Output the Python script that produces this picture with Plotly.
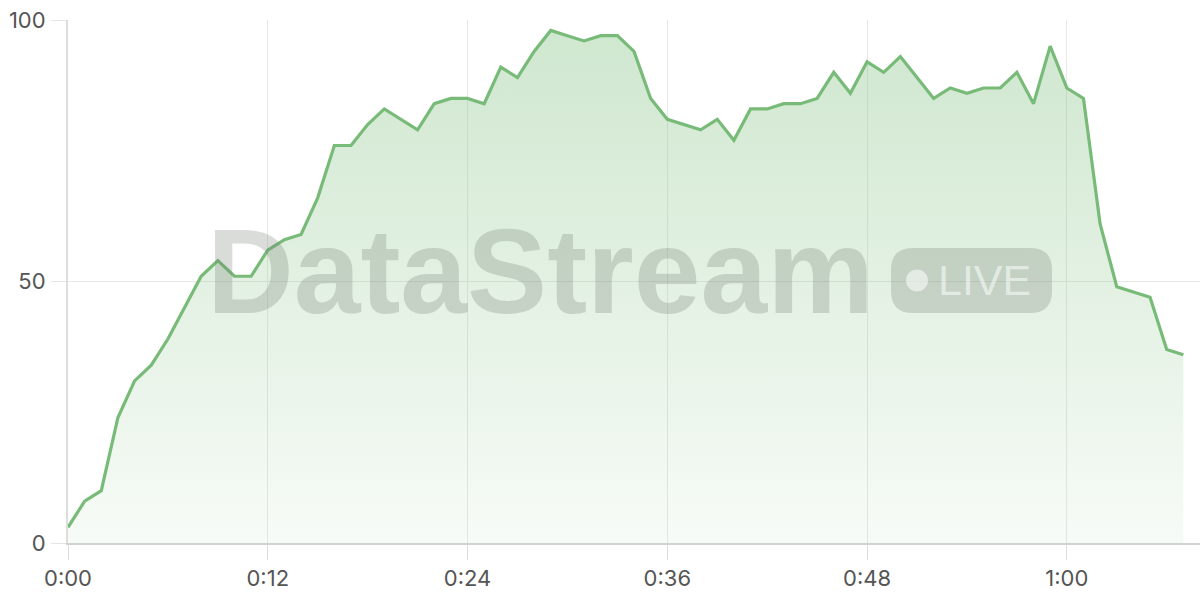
import plotly.graph_objects as go

seconds = list(range(68))
values = [3, 8, 10, 24, 31, 34, 39, 45, 51, 54, 51, 51, 56, 58, 59, 66,
          76, 76, 80, 83, 81, 79, 84, 85, 85, 84, 91, 89, 94, 98, 97, 96,
          97, 97, 94, 85, 81, 80, 79, 81, 77, 83, 83, 84, 84, 85, 90, 86,
          92, 90, 93, 89, 85, 87, 86, 87, 87, 90, 84, 95, 87, 85, 61, 49,
          48, 47, 37, 36]
tick_vals = [0, 12, 24, 36, 48, 60]
tick_text = ["0:00", "0:12", "0:24", "0:36", "0:48", "1:00"]
y_ticks = [0, 50, 100]

LINE = "rgb(120,187,120)"
FW, FH = 1200, 600
L, T, W, H = 68, 20, 1132, 523

def px(x):
    return (x - L) / W

def py(y):
    return (T + H - y) / H

fig = go.Figure()
fig.add_trace(go.Scatter(
    x=seconds, y=values, mode="lines",
    line=dict(color=LINE, width=3.2),
    fill="tozeroy",
    fillgradient=dict(type="vertical", start=0, stop=100,
                      colorscale=[[0, "rgba(120,187,120,0.06)"],
                                  [1, "rgba(120,187,120,0.36)"]]),
    hoverinfo="skip", showlegend=False,
))

wm = "rgba(110,120,110,0.26)"
fig.add_annotation(xref="paper", yref="paper", x=px(540), y=py(271),
                   text="<b>DataStream</b>", showarrow=False,
                   font=dict(family="Liberation Sans", size=120, color=wm),
                   xanchor="center", yanchor="middle")
# LIVE badge
w, h, r = 161, 65, 22
hw, hh = w / 2, h / 2
path = (f"M {-hw + r},{-hh} L {hw - r},{-hh} Q {hw},{-hh} {hw},{-hh + r} "
        f"L {hw},{hh - r} Q {hw},{hh} {hw - r},{hh} L {-hw + r},{hh} "
        f"Q {-hw},{hh} {-hw},{hh - r} L {-hw},{-hh + r} Q {-hw},{-hh} {-hw + r},{-hh} Z")
fig.add_shape(type="path", xref="paper", yref="paper", xsizemode="pixel",
              ysizemode="pixel", xanchor=px(971.5), yanchor=py(280.5),
              path=path, fillcolor=wm, line=dict(width=0), layer="above")
fig.add_shape(type="circle", xref="paper", yref="paper", xsizemode="pixel",
              ysizemode="pixel", xanchor=px(917), yanchor=py(280.5),
              x0=-11, x1=11, y0=-11, y1=11,
              fillcolor="rgba(255,255,255,0.55)", line=dict(width=0), layer="above")
fig.add_annotation(xref="paper", yref="paper", x=px(984), y=py(280),
                   text="LIVE", showarrow=False,
                   font=dict(family="Liberation Sans", size=43,
                             color="rgba(255,255,255,0.55)"),
                   xanchor="center", yanchor="middle")

fig.update_layout(
    width=FW, height=FH,
    margin=dict(l=L, r=FW - L - W, t=T, b=FH - T - H, pad=0),
    paper_bgcolor="white", plot_bgcolor="white",
    font=dict(family="Inter", size=22, color="#555555"),
    hovermode=False,
)
fig.update_xaxes(range=[0, 68], tickvals=tick_vals, ticktext=tick_text,
                 automargin=False, ticklabeloverflow="allow",
                 showgrid=True, gridcolor="#e8e8e8", gridwidth=1,
                 ticks="outside", ticklen=15, tickcolor="#dcdcdc", tickwidth=1,
                 showline=True, linecolor="#d0d4d0", linewidth=2,
                 zeroline=False, tickfont=dict(size=22, color="#555555"))
fig.update_yaxes(range=[0, 100], tickvals=y_ticks, automargin=False,
                 ticklabeloverflow="allow",
                 showgrid=True, gridcolor="#e8e8e8", gridwidth=1,
                 ticks="outside", ticklen=15, tickcolor="#e4e4e4", tickwidth=1,
                 ticklabelstandoff=1,
                 showline=True, linecolor="#dddddd", linewidth=2,
                 zeroline=False, tickfont=dict(size=22, color="#555555"))

fig.write_html("out.html",
               config={"displayModeBar": False, "staticPlot": True},
               post_script="document.body.style.margin='0';"
                           "document.body.style.overflow='hidden';")
